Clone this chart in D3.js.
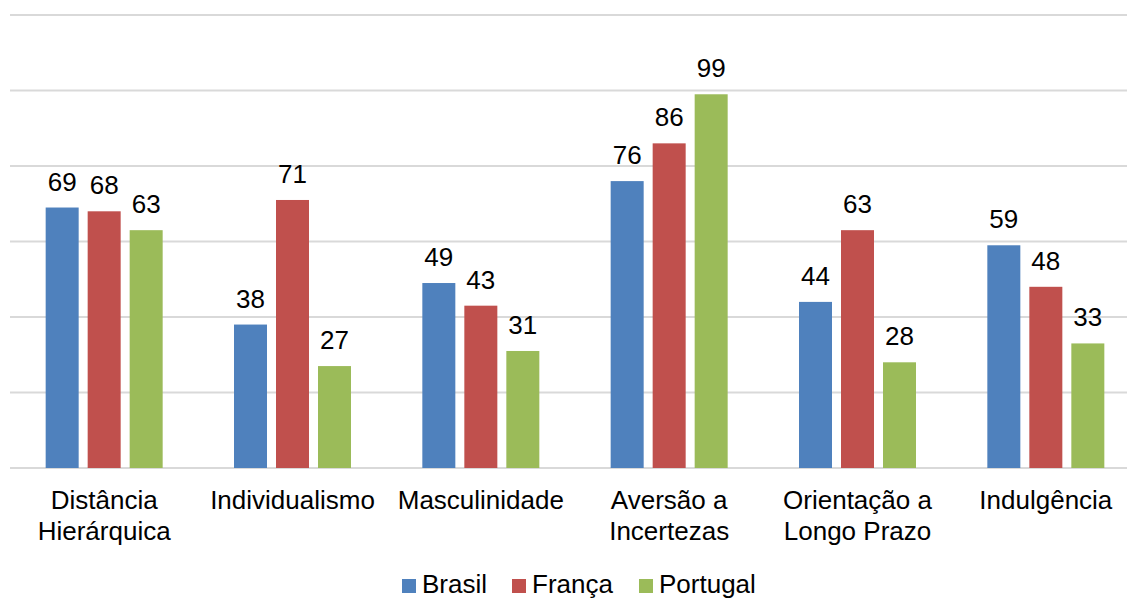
<!DOCTYPE html>
<html>
<head>
<meta charset="utf-8">
<script src="https://cdn.jsdelivr.net/npm/d3@7"></script>
<style>
  html, body { margin: 0; padding: 0; background: #ffffff; }
  svg { display: block; font-family: Arial, "Liberation Sans", sans-serif; }
</style>
</head>
<body>
<svg id="chart" width="1127" height="598"></svg>
<script>
// Hofstede cultural dimensions: Brasil, França, Portugal
const categories = [
  ["Distância", "Hierárquica"],
  ["Individualismo"],
  ["Masculinidade"],
  ["Aversão a", "Incertezas"],
  ["Orientação a", "Longo Prazo"],
  ["Indulgência"]
];
const seriesNames = ["Brasil", "França", "Portugal"];
const brasil   = [69, 38, 49, 76, 44, 59];
const franca   = [68, 71, 43, 86, 63, 48];
const portugal = [63, 27, 31, 99, 28, 33];
const seriesColors = ["#4f81bd", "#c0504d", "#9bbb59"];
const gridTicks = [0, 20, 40, 60, 80, 100, 120];

const seriesValues = [brasil, franca, portugal];
const catKeys = categories.map(c => c.join(" "));

const svg = d3.select("#chart");
const plotLeft = 10, plotRight = 1140, plotTop = 15, plotBottom = 468;

const x0 = d3.scaleBand().domain(catKeys).range([plotLeft, plotRight]).padding(0);
const groupW = 117;
const x1 = d3.scaleBand().domain(seriesNames)
  .range([(x0.bandwidth() - groupW) / 2, (x0.bandwidth() + groupW) / 2])
  .paddingInner(9 / 42).paddingOuter(0);
const y = d3.scaleLinear().domain([0, 120]).range([plotBottom, plotTop]);

// horizontal gridlines
svg.append("g").selectAll("line").data(gridTicks).join("line")
  .attr("x1", plotLeft).attr("x2", 1127)
  .attr("y1", d => y(d)).attr("y2", d => y(d))
  .attr("stroke", "#d9d9d9").attr("stroke-width", 2);

// bars
const groups = svg.append("g").selectAll("g").data(catKeys).join("g")
  .attr("transform", d => `translate(${x0(d)},0)`);

groups.each(function(cat, ci) {
  const g = d3.select(this);
  seriesNames.forEach((s, si) => {
    const v = seriesValues[si][ci];
    g.append("rect")
      .attr("x", x1(s)).attr("width", x1.bandwidth())
      .attr("y", y(v)).attr("height", y(0) - y(v))
      .attr("fill", seriesColors[si]);
    g.append("text")
      .attr("x", x1(s) + x1.bandwidth() / 2)
      .attr("y", y(v) - 17)
      .attr("text-anchor", "middle")
      .attr("font-size", 26).attr("fill", "#000")
      .text(v);
  });
});

// category labels
const catLabels = svg.append("g");
categories.forEach((lines, i) => {
  const t = catLabels.append("text")
    .attr("x", x0(catKeys[i]) + x0.bandwidth() / 2)
    .attr("y", 509)
    .attr("text-anchor", "middle")
    .attr("font-size", 26).attr("fill", "#000");
  lines.forEach((ln, li) => {
    t.append("tspan")
      .attr("x", x0(catKeys[i]) + x0.bandwidth() / 2)
      .attr("dy", li === 0 ? 0 : 31)
      .text(ln);
  });
});

// legend
const legendX = [402, 512, 639];
const legend = svg.append("g");
seriesNames.forEach((s, i) => {
  legend.append("rect")
    .attr("x", legendX[i]).attr("y", 579).attr("width", 14).attr("height", 14)
    .attr("fill", seriesColors[i]);
  legend.append("text")
    .attr("x", legendX[i] + 20).attr("y", 593)
    .attr("font-size", 26).attr("fill", "#000")
    .text(s);
});
</script>
</body>
</html>
